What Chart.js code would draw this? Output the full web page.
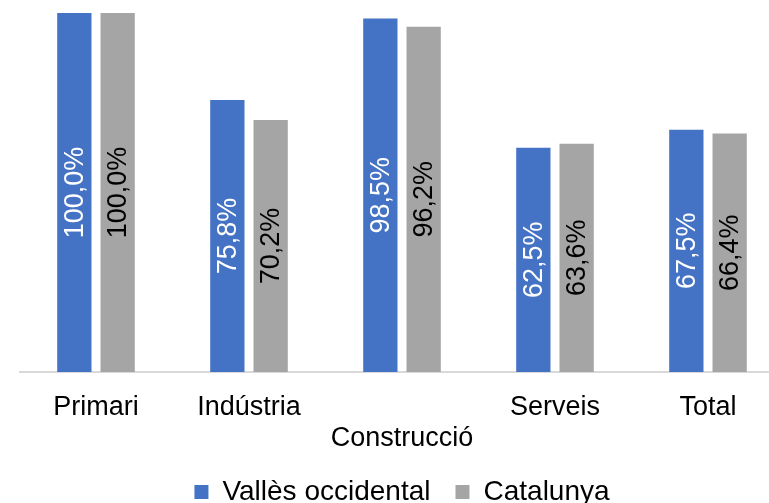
<!DOCTYPE html>
<html>
<head>
<meta charset="utf-8">
<script src="https://cdn.jsdelivr.net/npm/chart.js@4/dist/chart.umd.min.js"></script>
<style>
  html, body { margin: 0; padding: 0; background: #ffffff; overflow: hidden; width: 769px; height: 503px; }
  canvas { display: block; }
</style>
</head>
<body>
<canvas id="c" width="786" height="516"></canvas>
<script>
const categories = ['Primari', 'Indústria', 'Construcció', 'Serveis', 'Total'];
const tickLabels = [['Primari'], ['Indústria'], ['', 'Construcció'], ['Serveis'], ['Total']];
const seriesNames = ['Vallès occidental', 'Catalunya'];
const vallesValues = [100.0, 75.8, 98.5, 62.5, 67.5];
const catalunyaValues = [100.0, 70.2, 96.2, 63.6, 66.4];

const FONT = '"Liberation Sans", Arial, sans-serif';

const rotatedLabels = {
  id: 'rotatedLabels',
  afterDatasetsDraw(chart) {
    const ctx = chart.ctx;
    const base = chart.scales.y.getPixelForValue(0);
    chart.data.datasets.forEach((ds, di) => {
      const meta = chart.getDatasetMeta(di);
      meta.data.forEach((bar, i) => {
        const v = ds.data[i];
        const txt = v.toFixed(1).replace('.', ',') + '%';
        const cy = (bar.y + base) / 2;
        ctx.save();
        ctx.translate(bar.x, cy);
        ctx.rotate(-Math.PI / 2);
        ctx.font = '27px ' + FONT;
        ctx.fillStyle = ds.labelColor;
        ctx.textAlign = 'center';
        ctx.textBaseline = 'middle';
        ctx.fillText(txt, 0, 1);
        ctx.restore();
      });
    });
  }
};

new Chart(document.getElementById('c'), {
  type: 'bar',
  data: {
    labels: tickLabels,
    datasets: [
      { label: seriesNames[0], data: vallesValues, backgroundColor: '#4472C4', labelColor: '#ffffff',
        categoryPercentage: 0.566, barPercentage: 0.792 },
      { label: seriesNames[1], data: catalunyaValues, backgroundColor: '#A5A5A5', labelColor: '#000000',
        categoryPercentage: 0.566, barPercentage: 0.792 }
    ]
  },
  options: {
    responsive: false,
    animation: false,
    devicePixelRatio: 1,
    layout: { padding: { left: 19.5, right: 1.5, top: 13, bottom: 0 } },
    plugins: {
      legend: {
        position: 'bottom',
        labels: {
          boxWidth: 14, boxHeight: 14, padding: 25,
          color: '#000000',
          font: { family: FONT, size: 28 }
        }
      },
      tooltip: { enabled: false }
    },
    scales: {
      x: {
        grid: { display: false, drawTicks: false },
        border: { display: true, color: '#d9d9d9', width: 2 },
        ticks: {
          color: '#000000',
          padding: 20,
          autoSkip: false,
          maxRotation: 0,
          font: { family: FONT, size: 27, lineHeight: 1.15 }
        },
        afterFit(scale) { scale.height = 81; }
      },
      y: {
        display: false,
        min: 0,
        max: 100
      }
    }
  },
  plugins: [rotatedLabels]
});
</script>
</body>
</html>
